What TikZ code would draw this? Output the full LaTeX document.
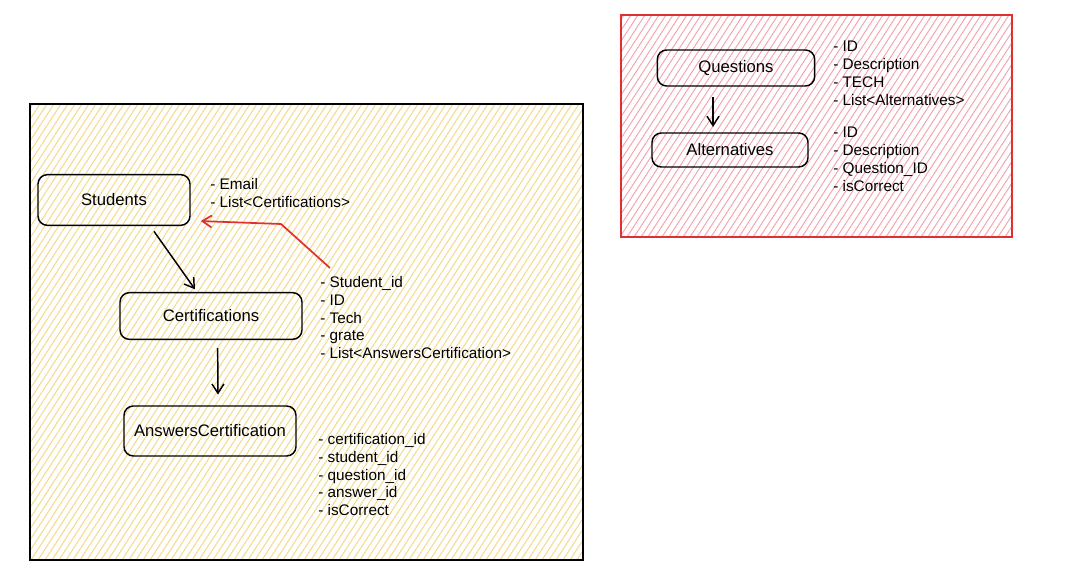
\documentclass[tikz,border=0pt]{standalone}
\usepackage{fontspec}
\setmainfont{Liberation Sans}
\usetikzlibrary{arrows.meta,positioning}

\definecolor{sketchred}{HTML}{E03131}
\definecolor{hatchyellow}{HTML}{F5D98A}
\definecolor{hatchred}{HTML}{F4A6AF}

\begin{document}
\begin{tikzpicture}[
        x=0.75pt, y=-0.75pt,
        entity/.style={draw, rounded corners=7pt, line width=1.1pt, font=\fontsize{12.5}{14}\selectfont},
        attrs/.style={anchor=north west, align=left, inner sep=0pt, font=\fontsize{11.5}{13.4}\selectfont},
        link/.style={-{Straight Barb[length=7pt,width=9pt]}, line width=1.1pt},
        hatch/.style={line width=0.75pt},
    ]
    \useasboundingbox (0,0) rectangle (1082,580);

    % hatched backgrounds of the two frames
    \begin{scope}
        \clip (30,104) rectangle (583,560);
        \foreach \k in {-270,-263,...,583}
            \draw[hatch, hatchyellow] (\k,560) -- ++(296,-456);
    \end{scope}
    \begin{scope}
        \clip (621,15) rectangle (1012,237);
        \foreach \k in {473,480,...,1012}
            \draw[hatch, hatchred] (\k,237) -- ++(144,-222);
    \end{scope}
    \draw[line width=1.6pt] (30,104) rectangle (583,560);
    \draw[sketchred, line width=1.6pt] (621,15) rectangle (1012,237);

    % entities
    \node[entity, minimum width=114pt, minimum height=38pt] (students) at (114,200) {Students};
    \node[entity, minimum width=136.5pt, minimum height=35pt] (certs) at (211,316) {Certifications};
    \node[entity, minimum width=129pt, minimum height=37.5pt] (answers) at (210,431) {AnswersCertification};
    \node[entity, minimum width=118pt, minimum height=27pt] (questions) at (736,68) {Questions};
    \node[entity, minimum width=117pt, minimum height=25.5pt] (alternatives) at (730,150) {Alternatives};

    % attribute lists
    \node[attrs] (studattr) at (210,178) {- Email\\- List<Certifications>};
    \node[attrs] (certattr) at (320,276) {- Student\_id\\- ID\\- Tech\\- grate\\- List<AnswersCertification>};
    \node[attrs] (ansattr) at (318,433) {- certification\_id\\- student\_id\\- question\_id\\- answer\_id\\- isCorrect};
    \node[attrs] (questattr) at (833,41) {- ID\\- Description\\- TECH\\- List<Alternatives>};
    \node[attrs] (altattr) at (833,127) {- ID\\- Description\\- Question\_ID\\- isCorrect};

    % relations
    \draw[link] ([xshift=30pt,yshift=-4pt]students.south) -- ([xshift=-12pt,yshift=2pt]certs.north);
    \draw[link] ([xshift=5pt,yshift=-6pt]certs.south) -- ([xshift=6pt,yshift=8pt]answers.north);
    \draw[link] ([xshift=-17.25pt,yshift=-8pt]questions.south) -- ([xshift=-12.75pt,yshift=4pt]alternatives.north);
    \coordinate (bend) at (281,224);
    \draw[link, sketchred, line width=1.3pt] ([xshift=7.5pt,yshift=6pt]certattr.north west) -- (bend)
        -- ([xshift=7.5pt,yshift=3.75pt]students.south east);
\end{tikzpicture}
\end{document}
